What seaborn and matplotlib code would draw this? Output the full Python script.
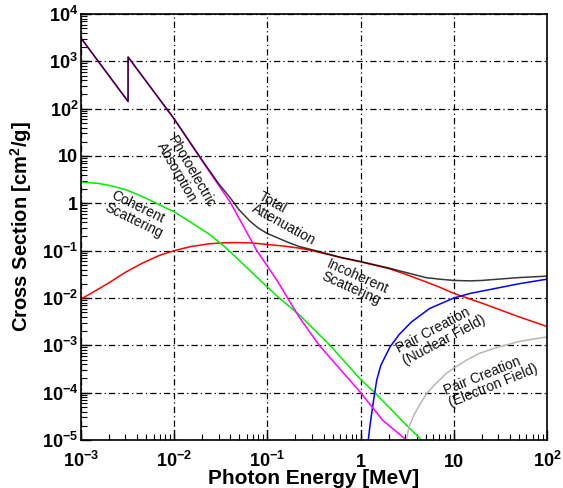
import numpy as np
import pandas as pd
import matplotlib
matplotlib.use("Agg")
import matplotlib.pyplot as plt
import seaborn as sns
from matplotlib.ticker import LogLocator, NullFormatter

# ---------------- data ----------------
photo_E = [1e-3, 3.2e-3, 3.2e-3, 0.01, 0.02, 0.04, 0.077, 0.126, 0.22, 0.36, 1.0, 1.73, 3.1, 3.5]
photo_val = [3100, 140, 1230, 60, 7.8, 1.05, 0.1, 0.024, 3.9e-3, 1e-3, 1e-4, 2.6e-5, 1e-5, 8e-6]

coh_E = [1e-3, 1.5e-3, 2e-3, 3e-3, 4e-3, 5.5e-3, 7e-3, 0.01, 0.015, 0.024, 0.035, 0.05,
         0.083, 0.13, 0.22, 0.47, 1.0, 1.42, 2.0, 3.0, 4.5, 5.0]
coh_val = [2.8, 2.65, 2.4, 1.95, 1.55, 1.17, 0.92, 0.66, 0.40, 0.22, 0.12, 0.062,
           0.024, 0.0105, 4.4e-3, 1e-3, 1.9e-4, 1e-4, 5e-5, 2.2e-5, 1e-5, 8e-6]

incoh_E = [1e-3, 1.5e-3, 2e-3, 3e-3, 4.6e-3, 7e-3, 0.01, 0.015, 0.024, 0.035, 0.05, 0.07,
           0.1, 0.15, 0.22, 0.3, 0.45, 0.6, 1.0, 1.5, 2.0, 3.0, 5.0, 7.0, 10, 20, 30, 50, 100]
incoh_val = [0.0095, 0.015, 0.021, 0.035, 0.055, 0.08, 0.1, 0.122, 0.14, 0.147, 0.148, 0.145,
             0.135, 0.125, 0.113, 0.1, 0.083, 0.072, 0.058, 0.048, 0.042, 0.032, 0.022, 0.017,
             0.0125, 0.0078, 0.0058, 0.0040, 0.0025]

pairn_E = [1.17, 1.21, 1.26, 1.315, 1.4, 1.49, 1.65, 2.07, 2.6, 3.5, 5.5, 10, 15, 24, 50, 100]
pairn_val = [5e-6, 1e-5, 2e-5, 3.66e-5, 8.5e-5, 1.85e-4, 3.8e-4, 9.3e-4, 1.7e-3, 3.1e-3,
             6e-3, 0.01, 0.0125, 0.015, 0.02, 0.025]

paire_E = [2.9, 3.1, 3.3, 3.8, 4.6, 5.2, 6.5, 8.4, 10, 14, 18.9, 30, 50, 70, 100]
paire_val = [7e-6, 1e-5, 1.9e-5, 3.6e-5, 6.9e-5, 1e-4, 1.6e-4, 2.6e-4, 3.3e-4, 5e-4,
             6.8e-4, 9.2e-4, 1.2e-3, 1.35e-3, 1.5e-3]

total_E = [1e-3, 3.2e-3, 3.2e-3, 0.01, 0.02, 0.03, 0.04, 0.05, 0.065, 0.08, 0.1, 0.126,
           0.16, 0.22, 0.3, 0.45, 0.6, 1.0, 1.5, 2.0, 3.0, 5.0, 7.0, 10, 15, 20, 30, 50, 100]
total_val = [3100, 143, 1235, 61, 8.1, 2.6, 1.3, 0.72, 0.42, 0.3, 0.23, 0.19,
             0.155, 0.122, 0.105, 0.085, 0.073, 0.059, 0.049, 0.043, 0.035, 0.027, 0.025,
             0.0235, 0.023, 0.0235, 0.025, 0.027, 0.029]

x_ticks = [1e-3, 1e-2, 1e-1, 1, 10, 100]
x_ticklabels = [r"$10^{-3}$", r"$10^{-2}$", r"$10^{-1}$", "1", "10", r"$10^{2}$"]
y_ticks = [1e-5, 1e-4, 1e-3, 1e-2, 1e-1, 1, 10, 100, 1e3, 1e4]
y_ticklabels = [r"$10^{-5}$", r"$10^{-4}$", r"$10^{-3}$", r"$10^{-2}$", r"$10^{-1}$",
                "1", "10", r"$10^{2}$", r"$10^{3}$", r"$10^{4}$"]

labels = ["Photoelectric\nAbsorption", "Coherent\nScattering", "Total\nAttenuation",
          "Incoherent\nScattering", "Pair Creation\n(Nuclear Field)",
          "Pair Creation\n(Electron Field)"]

# ---------------- style ----------------
sns.set_theme(style="white")
plt.rcParams["font.family"] = ["Liberation Sans", "DejaVu Sans"]
plt.rcParams["mathtext.fontset"] = "custom"
plt.rcParams["mathtext.rm"] = "Liberation Sans:bold"
plt.rcParams["mathtext.bf"] = "Liberation Sans:bold"
plt.rcParams["mathtext.it"] = "Liberation Sans:bold:italic"
plt.rcParams["mathtext.default"] = "rm"
plt.rcParams["text.color"] = "black"
plt.rcParams["axes.labelcolor"] = "black"
plt.rcParams["xtick.color"] = "black"
plt.rcParams["ytick.color"] = "black"

fig = plt.figure(figsize=(5.63, 4.88), dpi=100)
fig.patch.set_facecolor("white")
ax = fig.add_axes([81 / 563, 48 / 488, 466 / 563, 426 / 488])

series = [
    (incoh_E, incoh_val, "#ff0000", 1.0),
    (coh_E, coh_val, "#00ee00", 1.0),
    (pairn_E, pairn_val, "#0000ff", 1.0),
    (paire_E, paire_val, "#bdb6ae", 1.0),
    (photo_E, photo_val, "#ff00ff", 1.0),
    (total_E, total_val, "#000000", 0.78),
]
for E, v, c, a in series:
    df = pd.DataFrame({"E": E, "v": v})
    sns.lineplot(data=df, x="E", y="v", color=c, alpha=a, lw=1.1, sort=False,
                 estimator=None, ax=ax, legend=False)

ax.set_xscale("log")
ax.set_yscale("log")
ax.set_xlim(1e-3, 1e2)
ax.set_ylim(1e-5, 1e4)

ax.set_xticks(x_ticks, x_ticklabels)
ax.set_yticks(y_ticks, y_ticklabels)
ax.xaxis.set_minor_locator(LogLocator(base=10, subs=np.arange(2, 10), numticks=30))
ax.yaxis.set_minor_locator(LogLocator(base=10, subs=np.arange(2, 10), numticks=30))
ax.xaxis.set_minor_formatter(NullFormatter())
ax.yaxis.set_minor_formatter(NullFormatter())

ax.tick_params(which="both", direction="in", top=False, right=False, left=True,
               bottom=True, colors="black", labelcolor="black")
ax.tick_params(which="major", length=7, width=1.0, labelsize=13)
ax.tick_params(which="minor", length=4.3, width=0.8)
ax.tick_params(axis="x", which="major", pad=19.4)
ax.tick_params(axis="y", which="major", pad=2)
for lab in ax.get_xticklabels():
    lab.set_verticalalignment("baseline")
    lab.set_fontweight("bold")
for lab in ax.get_yticklabels():
    lab.set_fontweight("bold")

ax.grid(True, which="major", color="black", lw=0.9, linestyle=(0, (5, 2.5, 1, 2.5)))
ax.grid(False, which="minor")
for s in ax.spines.values():
    s.set_visible(True)
    s.set_color("black")
    s.set_linewidth(1.2)

ax.set_xlabel("Photon Energy [MeV]", fontsize=15, fontweight="bold", color="black")
ax.xaxis.set_label_coords(0.5, -0.069)
ax.set_ylabel(r"Cross Section [cm$^{2}$/g]", fontsize=14.5, fontweight="bold", color="black")
ax.yaxis.set_label_coords(-0.101, 0.5)

label_pos = [(0.2253, 0.622), (0.120, 0.5305), (0.442, 0.519),
             (0.588, 0.3685), (0.7725, 0.249), (0.880, 0.141)]
label_rot = [-60, -26, -29, -24, 28, 22]
for txt, (fx, fy), r in zip(labels, label_pos, label_rot):
    ax.text(fx, fy, txt, transform=ax.transAxes, fontsize=10, rotation=r,
            rotation_mode="anchor", ha="center", va="center", multialignment="left",
            color="#101010", linespacing=0.95)

fig.savefig("out.png", dpi=100)
